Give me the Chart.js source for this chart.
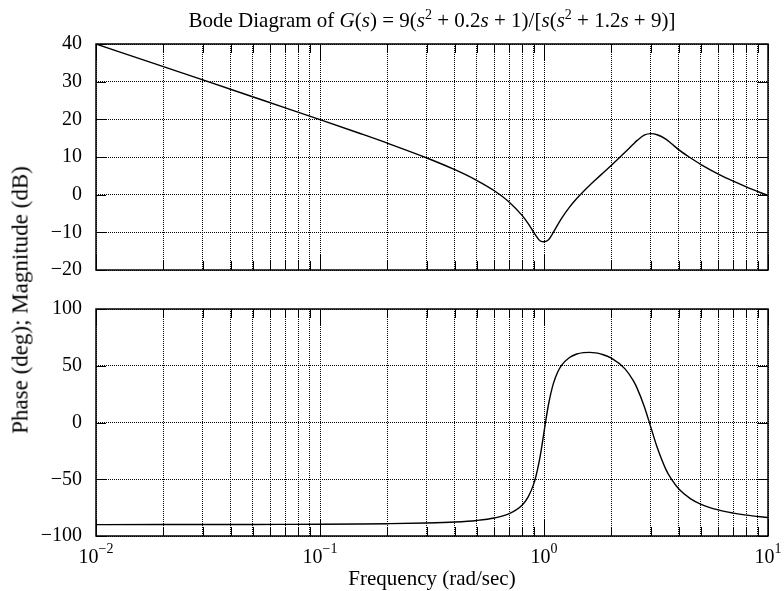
<!DOCTYPE html>
<html>
<head>
<meta charset="utf-8">
<script src="https://cdn.jsdelivr.net/npm/chart.js@4/dist/chart.umd.min.js"></script>
<style>
  html, body { margin:0; padding:0; background:#fff; }
  #wrap { position:relative; width:784px; height:591px; overflow:hidden; font-family:'Liberation Serif','Times New Roman',serif; color:#000; }
  #c1 { position:absolute; left:0; top:0; }
  #c2 { position:absolute; left:0; top:280px; }
  .lbl { position:absolute; font-size:21px; line-height:21px; white-space:nowrap; }
  #title { left:0; width:864px; top:10px; text-align:center; }
  #xlabel { left:0; width:864px; top:568px; text-align:center; }
  #ylabel { left:20px; top:300px; font-size:23px; line-height:23px; transform:translate(-50%,-50%) rotate(-90deg); }
  sup { font-size:14px; line-height:0; vertical-align:8px; }
</style>
</head>
<body>
<div id="wrap">
  <canvas id="c1" width="784" height="282"></canvas>
  <canvas id="c2" width="784" height="311"></canvas>
  <div class="lbl" id="title">Bode Diagram of <i>G</i>(<i>s</i>) = 9(<i>s</i><sup>2</sup> + 0.2<i>s</i> + 1)/[<i>s</i>(<i>s</i><sup>2</sup> + 1.2<i>s</i> + 9)]</div>
  <div class="lbl" id="xlabel">Frequency (rad/sec)</div>
  <div class="lbl" id="ylabel">Phase (deg); Magnitude (dB)</div>
</div>
<script>
// ---- data ----
const freq = [0.01,0.02,0.03,0.05,0.07,0.1,0.15,0.2,0.3,0.4,0.5,0.6,0.7,0.8,0.85,0.9,0.92,0.95,0.97,1.0,1.02,1.05,1.1,1.15,1.2,1.3,1.4,1.5,1.6,1.7,1.8,2,2.3,2.5,2.6,2.8,3,3.2,3.5,3.7,4,4.5,5,6,7,8,10];
const magnitudeDb = [40.0,33.98,30.46,26.0,23.06,19.92,16.3,13.67,9.74,6.63,3.82,1.04,-1.99,-5.57,-7.68,-9.98,-10.9,-12.0,-12.4,-12.5,-12.4,-11.9,-10.03,-8.02,-6.22,-3.31,-1.03,0.86,2.5,3.96,5.32,7.8,11.25,13.38,14.34,15.8,16.2,15.9,14.74,13.6,11.9,9.8,8.06,5.48,3.58,2.08,-0.26];
const phaseDeg = [-89.96,-89.92,-89.89,-89.81,-89.73,-89.61,-89.39,-89.15,-88.54,-87.67,-86.33,-84.14,-80.29,-72.59,-65.53,-54.06,-47.57,-35.17,-25.16,-8.53,2.46,16.96,34.05,44.31,50.61,57.3,60.32,61.57,61.81,61.34,60.31,56.77,47.23,37.07,30.52,14.37,-4.29,-21.86,-41.29,-49.77,-58.61,-67.04,-71.83,-77.03,-79.81,-81.56,-83.65];
const xDecades = [0.01, 0.1, 1, 10];
const xDecadeExps = ['\u22122', '\u22121', '0', '1'];
const xMinorMultipliers = [2,3,4,5,6,7,8,9];
const magTicks = [-20,-10,0,10,20,30,40];
const phaseTicks = [-100,-50,0,50,100];

// ---- helpers ----
const FONT = "'Liberation Serif', 'Times New Roman', serif";
const xTickValues = [];
xDecades.forEach((d, i) => {
  xTickValues.push(d);
  if (i < xDecades.length - 1) xMinorMultipliers.forEach(m => xTickValues.push(+(d * m).toPrecision(6)));
});

const framePlugin = {
  id: 'frame',
  afterDatasetsDraw(chart) {
    const ctx = chart.ctx, a = chart.chartArea;
    const xs = chart.scales.x, ys = chart.scales.y;
    ctx.save();
    ctx.strokeStyle = '#000';
    ctx.lineWidth = 1;
    ctx.setLineDash([]);
    ctx.beginPath();
    xTickValues.forEach(v => {
      const px = Math.round(xs.getPixelForValue(v)) + 0.5;
      const len = xDecades.includes(v) ? 16 : 9;
      ctx.moveTo(px, a.bottom); ctx.lineTo(px, a.bottom - len);
      ctx.moveTo(px, a.top); ctx.lineTo(px, a.top + len);
    });
    ys.ticks.forEach(t => {
      const py = Math.round(ys.getPixelForValue(t.value)) + 0.5;
      ctx.moveTo(a.left, py); ctx.lineTo(a.left + 10, py);
      ctx.moveTo(a.right, py); ctx.lineTo(a.right - 10, py);
    });
    ctx.stroke();
    ctx.lineWidth = 1.5;
    ctx.strokeRect(a.left, a.top, a.right - a.left, a.bottom - a.top);
    ctx.restore();
  }
};

const xLabelPlugin = {
  id: 'xlabels',
  afterDraw(chart) {
    const ctx = chart.ctx, xs = chart.scales.x;
    ctx.save();
    ctx.fillStyle = '#000';
    ctx.textBaseline = 'alphabetic';
    ctx.textAlign = 'left';
    xDecades.forEach((v, i) => {
      const px = xs.getPixelForValue(v);
      ctx.font = '20px ' + FONT;
      const wb = ctx.measureText('10').width;
      ctx.font = '14px ' + FONT;
      const we = ctx.measureText(xDecadeExps[i]).width;
      let x0 = px - (wb + we) / 2;
      if (x0 + wb + we > chart.width) x0 = chart.width - wb - we;
      ctx.font = '20px ' + FONT;
      ctx.fillText('10', x0, 283);
      ctx.font = '14px ' + FONT;
      ctx.fillText(xDecadeExps[i], x0 + wb, 273);
    });
    ctx.restore();
  }
};

function makeChart(canvasId, values, yMin, yMax, yTickList, padding, extraPlugins) {
  return new Chart(document.getElementById(canvasId), {
    type: 'line',
    data: {
      datasets: [{
        data: freq.map((f, i) => ({ x: f, y: values[i] })),
        borderColor: '#000',
        borderWidth: 1.4,
        pointRadius: 0,
        cubicInterpolationMode: 'monotone',
        fill: false
      }]
    },
    options: {
      responsive: false,
      animation: false,
      devicePixelRatio: 1,
      layout: { padding },
      plugins: { legend: { display: false }, tooltip: { enabled: false }, title: { display: false } },
      scales: {
        x: {
          type: 'logarithmic',
          min: 0.01, max: 10,
          ticks: { display: false },
          grid: { color: '#000', lineWidth: 1, drawTicks: false },
          border: { display: false, dash: [1, 1] },
          afterBuildTicks(s) { s.ticks = xTickValues.map(v => ({ value: v })); },
          afterFit(s) { s.height = 0; }
        },
        y: {
          type: 'linear',
          min: yMin, max: yMax,
          ticks: {
            color: '#000',
            font: { family: FONT, size: 20 },
            padding: 0,
            callback: v => String(v).replace('-', '\u2212')
          },
          grid: { color: '#000', lineWidth: 1, drawTicks: true, tickLength: 14, tickColor: 'rgba(0,0,0,0)' },
          border: { display: false, dash: [1, 1] },
          afterBuildTicks(s) { s.ticks = yTickList.map(v => ({ value: v })); },
          afterFit(s) { s.width = 96; }
        }
      }
    },
    plugins: [framePlugin].concat(extraPlugins)
  });
}

makeChart('c1', magnitudeDb, -20, 40, magTicks, { left: 0, right: 16, top: 44, bottom: 12 }, []);
makeChart('c2', phaseDeg, -100, 100, phaseTicks, { left: 0, right: 16, top: 29, bottom: 55 }, [xLabelPlugin]);
</script>
</body>
</html>
